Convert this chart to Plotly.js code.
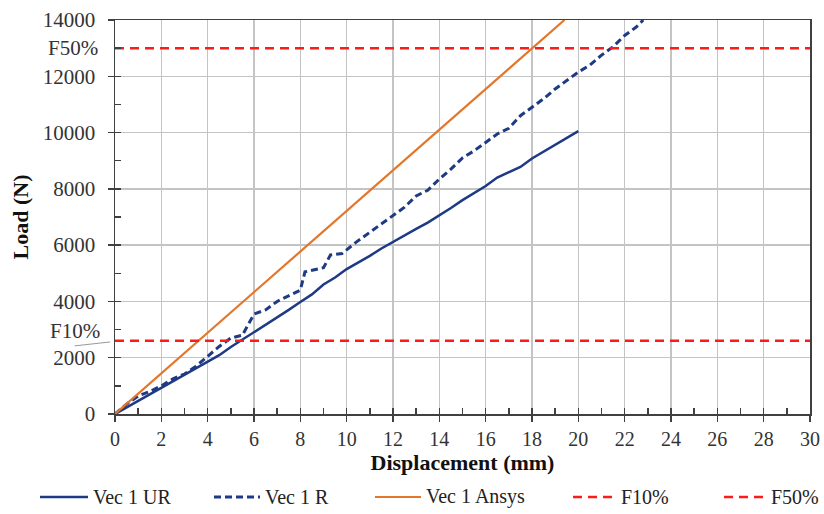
<!DOCTYPE html>
<html>
<head>
<meta charset="utf-8">
<script src="https://cdn.plot.ly/plotly-3.0.1.min.js"></script>
<style>html,body{margin:0;padding:0;background:#fff;}#chart{width:824px;height:514px;}</style>
</head>
<body>
<div id="chart"></div>
<script>
// Vec 1 UR (solid navy)
const urX = [0,0.5,1,1.5,2,2.5,3,3.5,4,4.5,5,5.5,6,6.5,7,7.5,8,8.5,9,9.5,10,10.5,11,11.5,12,12.5,13,13.5,14,14.5,15,15.5,16,16.5,17,17.5,18,18.5,19,19.5,20];
const urY = [0,230,470,700,930,1150,1390,1620,1860,2090,2380,2640,2900,3150,3420,3700,3980,4250,4600,4850,5150,5380,5620,5880,6120,6350,6580,6800,7050,7320,7600,7850,8100,8400,8600,8780,9080,9320,9550,9800,10050];
// Vec 1 R (dashed navy)
const rX = [0,0.5,1,1.5,2,2.5,3,3.5,4,4.5,5,5.5,6,6.5,7,7.5,8,8.2,8.5,9,9.3,9.8,10.4,11,11.5,12,12.5,13,13.5,14,14.5,15,15.5,16,16.5,17,17.5,18,18.5,19,19.5,20,20.5,21,21.5,22,22.5,22.8];
const rY = [0,350,640,800,1000,1250,1420,1700,2050,2400,2700,2800,3550,3700,4000,4200,4400,5050,5100,5200,5650,5700,6100,6450,6750,7050,7350,7750,7950,8350,8700,9100,9350,9650,9950,10150,10600,10900,11200,11550,11850,12150,12400,12750,13050,13450,13750,14000];
// Vec 1 Ansys (orange)
const ansX = [0,19.4];
const ansY = [0,14000];
// Reference loads
const f10 = 2600;
const f50 = 13000;
const refX = [0,30];
// Legend labels
const seriesNames = ['Vec 1 UR', 'Vec 1 R', 'Vec 1 Ansys', 'F10%', 'F50%'];

const navy = '#1F3A84';
const orange = '#E2762B';
const red = '#FF1A1A';
const font = '"Liberation Serif", "Times New Roman", serif';

const styles = [
  {color: navy, width: 2.5, dash: 'solid'},
  {color: navy, width: 3, dash: '7px,4px'},
  {color: orange, width: 2.2, dash: 'solid'},
  {color: red, width: 2.5, dash: '9px,6px'},
  {color: red, width: 2.5, dash: '9px,6px'}
];
const xs = [urX, rX, ansX, refX, refX];
const ys = [urY, rY, ansY, [f10, f10], [f50, f50]];

const traces = seriesNames.map((n, i) => ({x: xs[i], y: ys[i], mode: 'lines', name: n, line: styles[i], showlegend: false}));
traces.push({x: [0], y: [0], xaxis: 'x2', yaxis: 'y2', mode: 'markers', marker: {opacity: 0}, showlegend: false, hoverinfo: 'skip'});

// custom legend (pixel positions converted to paper fractions)
const L = 115, W = 695, T = 20, H = 394;
const px = p => (p - L) / W;
const py = p => (T + H - p) / H;
const legY = 497;
const legStarts = [40, 214, 375, 573, 724];
const legLen = [48, 46, 46, 43, 42];
const shapes = [
  {type: 'line', xref: 'paper', yref: 'y', x0: -0.058, y0: 2420, x1: -0.007, y1: 2560, line: {color: '#999', width: 1}}
];
const annotations = [
  {xref: 'paper', x: 0, xshift: -15, xanchor: 'right', yref: 'y', y: f50, yanchor: 'middle', text: 'F50%', showarrow: false,
   font: {family: font, size: 21, color: '#333'}},
  {xref: 'paper', x: 0, xshift: -13, xanchor: 'right', yref: 'y', y: 2950, yanchor: 'middle', text: 'F10%', showarrow: false,
   font: {family: font, size: 21, color: '#333'}}
];
seriesNames.forEach((n, i) => {
  shapes.push({type: 'line', xref: 'paper', yref: 'paper', x0: px(legStarts[i]), x1: px(legStarts[i] + legLen[i]),
               y0: py(legY), y1: py(legY), line: styles[i]});
  annotations.push({xref: 'paper', yref: 'paper', x: px(legStarts[i] + legLen[i] + 3), y: py(legY), xanchor: 'left', yanchor: 'middle',
                    text: n, showarrow: false, font: {family: font, size: 20, color: '#222'}});
});

const layout = {
  width: 824, height: 514,
  margin: {l: 115, r: 14, t: 20, b: 100},
  paper_bgcolor: '#fff', plot_bgcolor: '#fff',
  font: {family: font, size: 20, color: '#222'},
  showlegend: false,
  xaxis: {range: [0, 30], dtick: 2, tick0: 0, showgrid: true, gridcolor: '#C4C4C4', gridwidth: 1.4,
          zeroline: false, showline: true, linecolor: '#404040', linewidth: 1.5, mirror: true,
          ticks: 'outside', ticklen: 6, tickcolor: '#404040', tickwidth: 1.5, tickformat: 'd',
          tickfont: {family: font, size: 20, color: '#333'},
          title: {text: '<b>Displacement (mm)</b>', font: {family: font, size: 22, color: '#111'}, standoff: 6}},
  yaxis: {range: [0, 14000], dtick: 2000, tick0: 0, showgrid: true, gridcolor: '#C4C4C4', gridwidth: 1.4,
          zeroline: false, showline: true, linecolor: '#404040', linewidth: 1.5, mirror: true,
          ticks: 'outside', ticklen: 6, tickcolor: '#404040', tickwidth: 1.5, ticklabelstandoff: 8, tickformat: 'd',
          tickfont: {family: font, size: 21, color: '#333'},
          title: {text: '<b>Load (N)</b>', font: {family: font, size: 22, color: '#111'}, standoff: 8}},
  xaxis2: {overlaying: 'x', matches: 'x', range: [0, 30], dtick: 1, ticks: 'inside', ticklen: 6, tickcolor: '#404040', tickwidth: 1.5,
           showticklabels: false, showgrid: false, zeroline: false, showline: false, anchor: 'y2'},
  yaxis2: {overlaying: 'y', range: [0, 14000], dtick: 1000, ticks: 'inside', ticklen: 6, tickcolor: '#404040', tickwidth: 1.5,
           showticklabels: false, showgrid: false, zeroline: false, showline: false, anchor: 'x2'},
  annotations: annotations,
  shapes: shapes
};

Plotly.newPlot('chart', traces, layout, {displayModeBar: false, staticPlot: true});
</script>
</body>
</html>
